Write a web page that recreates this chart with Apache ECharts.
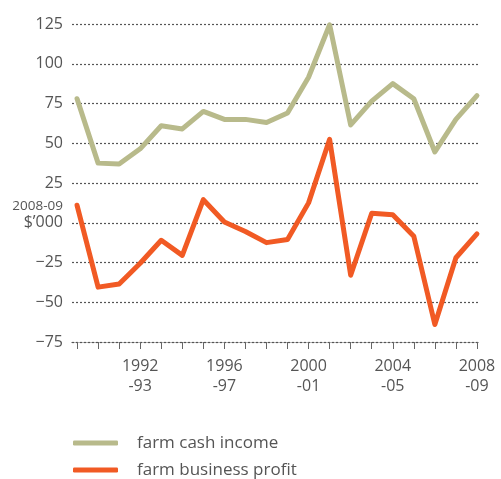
<!DOCTYPE html>
<html>
<head>
<meta charset="utf-8">
<script src="https://cdn.jsdelivr.net/npm/echarts@6/dist/echarts.min.js"></script>
<style>
html,body{margin:0;padding:0;background:#fff;}
#c{width:501px;height:479px;}
</style>
</head>
<body>
<div id="c"></div>
<script>
var years = ['1989-90','1990-91','1991-92','1992-93','1993-94','1994-95','1995-96','1996-97','1997-98','1998-99','1999-00','2000-01','2001-02','2002-03','2003-04','2004-05','2005-06','2006-07','2007-08','2008-09'];
var cashIncome = [78, 37.5, 37, 46.5, 61, 59, 70, 65, 65, 63, 69, 91.5, 124.5, 61.5, 76.5, 87.5, 78, 44.5, 65, 80];
var businessProfit = [11, -40.5, -38.5, -25.5, -11, -20.5, 14.5, 0.5, -5.5, -12.5, -10.5, 12.5, 52.5, -33, 6, 5, -8.5, -64, -22, -7];
var labelYears = ['1992-93','1996-97','2000-01','2004-05','2008-09'];
var seriesNames = ['farm cash income', 'farm business profit'];
var unitLabel = ['2008-09', '$\u2019000'];

var font = 'Open Sans';
var txt = '#555555';
var chart = echarts.init(document.getElementById('c'));
function toPairs(arr){ return arr.map(function(v,i){ return [i, v]; }); }
var labelIdx = labelYears.map(function(y){ return years.indexOf(y); });
var tickIdx = years.map(function(y,i){ return i; });

chart.setOption({
  animation: false,
  grid: { left: 72, right: 23, top: 24, bottom: 137, containLabel: false },
  xAxis: {
    type: 'value',
    min: -0.24, max: 19.05,
    splitLine: { show: false },
    axisLine: { show: true, onZero: false, lineStyle: { color: '#555', width: 1.2, type: [2, 2] } },
    axisTick: { show: true, customValues: tickIdx, length: 7, inside: false, lineStyle: { color: '#666', width: 1, type: 'solid' } },
    axisLabel: {
      customValues: labelIdx,
      formatter: function(v){ var y = years[Math.round(v)]; var p = y.split('-'); return p[0] + '\n-' + p[1]; },
      color: txt, fontFamily: font, fontSize: 16, lineHeight: 20, margin: 14
    }
  },
  yAxis: {
    type: 'value', min: -75, max: 125, interval: 25,
    axisLine: { show: false }, axisTick: { show: false },
    splitLine: { show: true, lineStyle: { color: '#555', width: 1.2, type: [2, 2] } },
    axisLabel: {
      margin: 9,
      color: txt, fontFamily: font, fontSize: 16,
      formatter: function(v){
        if (v === 0) return '{s|' + unitLabel[0] + '}\n{b|' + unitLabel[1] + '}\n{e|}';
        return v < 0 ? '\u2212' + Math.abs(v) : String(v);
      },
      rich: {
        s: { fontFamily: font, fontSize: 13.5, color: txt, lineHeight: 15, align: 'right' },
        b: { fontFamily: font, fontSize: 16, color: txt, lineHeight: 18, align: 'right' },
        e: { lineHeight: 15, height: 15 }
      }
    }
  },
  legend: {
    orient: 'vertical', left: 73, top: 433, height: 80, padding: 0,
    icon: 'roundRect', itemWidth: 45, itemHeight: 5, itemGap: 7,
    textStyle: { color: txt, fontFamily: font, fontSize: 17, lineHeight: 20, padding: [0, 0, 0, 14] },
    data: seriesNames
  },
  series: [
    { name: seriesNames[0], type: 'line', data: toPairs(cashIncome), showSymbol: false, symbol: 'none',
      lineStyle: { color: '#b8ba8b', width: 5, cap: 'round', join: 'round' }, itemStyle: { color: '#b8ba8b' } },
    { name: seriesNames[1], type: 'line', data: toPairs(businessProfit), showSymbol: false, symbol: 'none',
      lineStyle: { color: '#f15a24', width: 5, cap: 'round', join: 'round' }, itemStyle: { color: '#f15a24' } }
  ]
});
</script>
</body>
</html>
